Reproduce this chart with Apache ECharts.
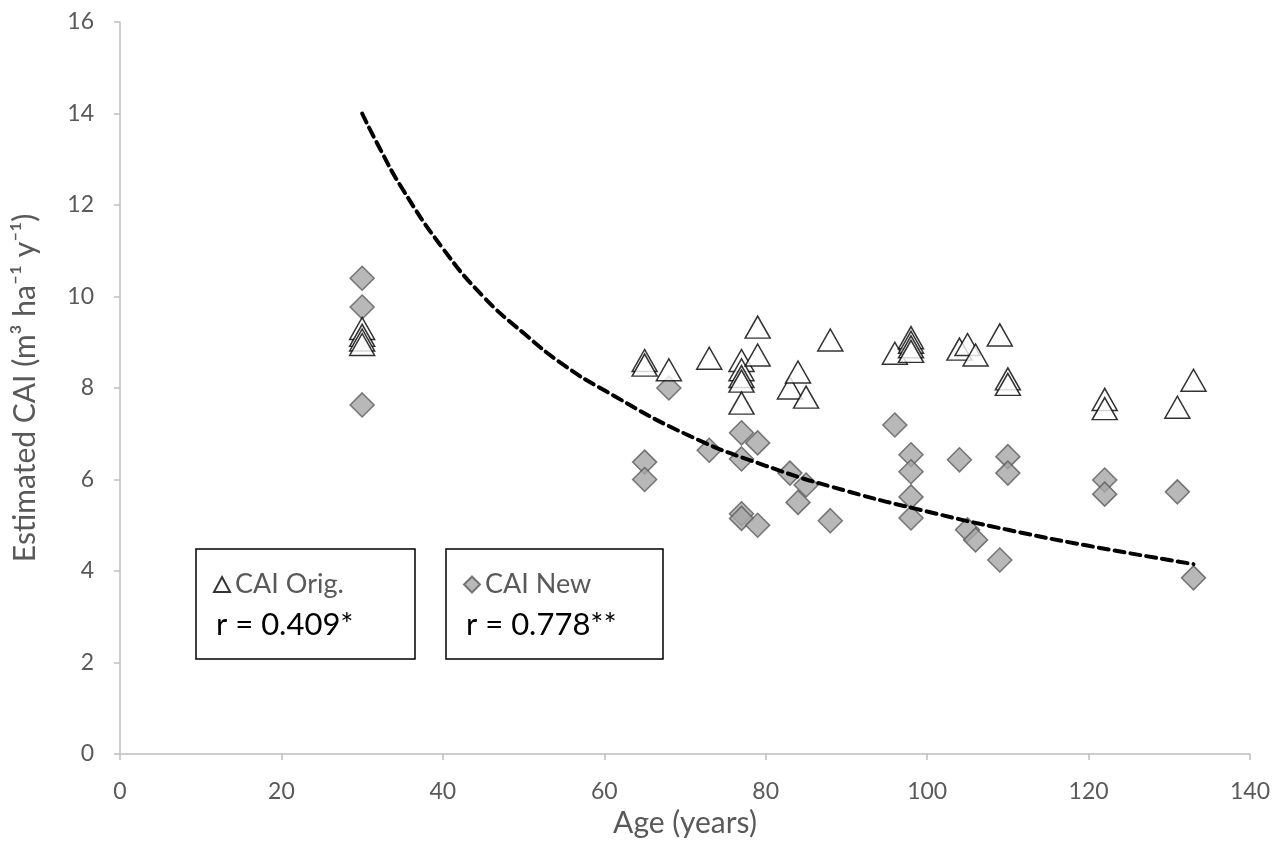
<!DOCTYPE html>
<html lang="en">
<head>
    <meta charset="UTF-8">
    <title>Estimated CAI vs Age</title>
    <script src="https://cdn.jsdelivr.net/npm/echarts@6/dist/echarts.min.js"></script>
    <style>
        html, body { margin: 0; padding: 0; background: #fff; }
        #main { width: 1286px; height: 845px; }
    </style>
</head>
<body>
    <div id="main"></div>
    <script>
        // values
        var origAge = [30, 30, 30, 30, 65, 65, 68, 73, 77, 77, 77, 77, 77, 79, 79, 83, 84, 85, 88,
                       96, 98, 98, 98, 98, 104, 105, 106, 109, 110, 110, 122, 122, 131, 133];
        var origCAI = [9.3, 9.15, 9.05, 8.95, 8.6, 8.5, 8.4, 8.65, 8.6, 8.4, 8.25, 8.15, 7.67, 9.33, 8.72, 8.0, 8.35, 7.8, 9.05,
                       8.76, 9.1, 9.0, 8.9, 8.8, 8.85, 8.95, 8.72, 9.16, 8.2, 8.08, 7.75, 7.55, 7.58, 8.17];

        var newAge = [30, 30, 30, 65, 65, 68, 73, 77, 77, 77, 77, 79, 79, 83, 84, 85, 88,
                      96, 98, 98, 98, 98, 104, 105, 106, 109, 110, 110, 122, 122, 131, 133];
        var newCAI = [10.4, 9.77, 7.63, 6.38, 6.0, 8.0, 6.64, 7.02, 6.45, 5.25, 5.15, 6.8, 5.0, 6.14, 5.5, 5.88, 5.1,
                      7.19, 6.54, 6.17, 5.62, 5.16, 6.43, 4.9, 4.68, 4.24, 6.5, 6.14, 5.99, 5.68, 5.73, 3.85];

        // dashed trend line, read at a few ages
        var trendAge = [30, 32, 35, 40, 45, 50, 55, 60, 70, 80, 90, 100, 110, 120, 133];
        var trendCAI = [14.0, 13.3, 12.35, 11.05, 10.0, 9.2, 8.5, 7.95, 7.0, 6.3, 5.75, 5.3, 4.9, 4.55, 4.15];

        var rOrig = 'r = 0.409*';
        var rNew = 'r = 0.778**';

        function pairs(xs, ys) {
            return xs.map(function (x, i) { return [x, ys[i]]; });
        }

        var font = 'Lato, "Open Sans", sans-serif';
        var axisGray = '#bfbfbf';
        var textGray = '#595959';

        var chart = echarts.init(document.getElementById('main'));
        chart.setOption({
            backgroundColor: '#fff',
            animation: false,
            grid: { left: 120, right: 36, top: 22, bottom: 91 },
            xAxis: {
                type: 'value',
                min: 0, max: 140, interval: 20,
                name: 'Age (years)',
                nameLocation: 'middle',
                nameGap: 54,
                nameTextStyle: { color: textGray, fontSize: 30, fontFamily: font },
                axisLine: { show: true, lineStyle: { color: axisGray, width: 1.5 } },
                axisTick: { show: true, length: 6, lineStyle: { color: axisGray, width: 1.5 } },
                axisLabel: { color: textGray, fontSize: 23, fontFamily: font, margin: 26 },
                splitLine: { show: false }
            },
            yAxis: {
                type: 'value',
                min: 0, max: 16, interval: 2,
                name: 'Estimated CAI (m³ ha⁻¹ y⁻¹)',
                nameLocation: 'middle',
                nameGap: 80,
                nameTextStyle: { color: textGray, fontSize: 30, fontFamily: font },
                axisLine: { show: true, lineStyle: { color: axisGray, width: 1.5 } },
                axisTick: { show: true, length: 6, lineStyle: { color: axisGray, width: 1.5 } },
                axisLabel: { color: textGray, fontSize: 23, fontFamily: font, margin: 26 },
                splitLine: { show: false }
            },
            legend: [{
                data: ['CAI Orig.'],
                left: 208, top: 566,
                itemWidth: 16, itemHeight: 15, itemGap: 8,
                textStyle: { color: textGray, fontSize: 27, fontFamily: font }
            }, {
                data: ['CAI New'],
                left: 458, top: 566,
                itemWidth: 16, itemHeight: 16, itemGap: 8,
                textStyle: { color: textGray, fontSize: 27, fontFamily: font }
            }],
            graphic: [
                { type: 'rect', shape: { x: 196, y: 549, width: 219, height: 110 },
                  style: { fill: '#fff', stroke: '#000', lineWidth: 1.5 }, z: -1 },
                { type: 'rect', shape: { x: 446, y: 549, width: 217, height: 110 },
                  style: { fill: '#fff', stroke: '#000', lineWidth: 1.5 }, z: -1 },
                { type: 'text', left: 216, top: 609,
                  style: { text: rOrig, fill: '#000', fontSize: 31, fontFamily: font } },
                { type: 'text', left: 466, top: 609,
                  style: { text: rNew, fill: '#000', fontSize: 31, fontFamily: font } }
            ],
            series: [{
                name: 'CAI New',
                type: 'scatter',
                symbol: 'diamond',
                symbolSize: [24, 24],
                itemStyle: { color: '#a6a6a6', borderColor: '#5a5a5a', borderWidth: 1.5 },
                data: pairs(newAge, newCAI),
                z: 2
            }, {
                name: 'CAI Orig.',
                type: 'scatter',
                symbol: 'triangle',
                symbolSize: [25, 22],
                itemStyle: { color: '#fff', borderColor: '#000', borderWidth: 1.5 },
                data: pairs(origAge, origCAI),
                z: 3
            }, {
                name: 'trend',
                type: 'line',
                smooth: true,
                symbol: 'none',
                lineStyle: { color: '#000', width: 4, type: [10, 6], cap: 'round' },
                data: pairs(trendAge, trendCAI),
                z: 4
            }]
        });
    </script>
</body>
</html>
